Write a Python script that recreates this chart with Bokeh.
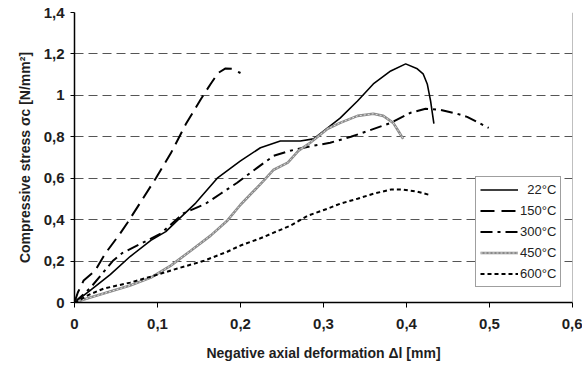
from bokeh.plotting import figure
from bokeh.models import Range1d, FixedTicker, CustomJSTickFormatter, Span
from bokeh.embed import file_html
from bokeh.resources import INLINE

# ---- data ----
x_ticks = [0, 0.1, 0.2, 0.3, 0.4, 0.5, 0.6]
y_ticks = [0, 0.2, 0.4, 0.6, 0.8, 1.0, 1.2, 1.4]

labels = ["\u00a0\u00a022°C", "150°C", "300°C", "450°C", "600°C"]

x22 = [0, 0.019, 0.043, 0.067, 0.092, 0.11, 0.125, 0.146, 0.172, 0.2, 0.224, 0.248,
       0.272, 0.288, 0.305, 0.32, 0.341, 0.36, 0.381, 0.399, 0.413, 0.42, 0.425, 0.429, 0.433]
y22 = [0, 0.058, 0.135, 0.222, 0.30, 0.342, 0.40, 0.48, 0.60, 0.684, 0.747, 0.78,
       0.78, 0.79, 0.843, 0.89, 0.973, 1.055, 1.118, 1.152, 1.128, 1.104, 1.055, 0.973, 0.863]

x150 = [0, 0.004, 0.011, 0.025, 0.037, 0.055, 0.064, 0.098, 0.116, 0.134, 0.152, 0.164,
        0.173, 0.182, 0.19, 0.2]
y150 = [0, 0.048, 0.106, 0.154, 0.236, 0.333, 0.386, 0.60, 0.72, 0.86, 0.98, 1.055,
        1.108, 1.13, 1.128, 1.108]

x300 = [0, 0.019, 0.046, 0.058, 0.088, 0.104, 0.131, 0.158, 0.176, 0.196, 0.22, 0.24,
        0.26, 0.288, 0.308, 0.333, 0.354, 0.381, 0.405, 0.423, 0.441, 0.461, 0.473, 0.499]
y300 = [0, 0.07, 0.20, 0.24, 0.30, 0.333, 0.43, 0.477, 0.525, 0.578, 0.65, 0.708,
        0.733, 0.757, 0.771, 0.80, 0.829, 0.867, 0.916, 0.935, 0.93, 0.911, 0.896, 0.843]

x450 = [0, 0.019, 0.035, 0.067, 0.092, 0.116, 0.14, 0.164, 0.184, 0.2, 0.228, 0.24,
        0.257, 0.27, 0.284, 0.305, 0.32, 0.341, 0.36, 0.372, 0.384, 0.39, 0.396]
y450 = [0, 0.024, 0.043, 0.082, 0.12, 0.178, 0.25, 0.323, 0.395, 0.472, 0.588, 0.641,
        0.675, 0.733, 0.771, 0.839, 0.867, 0.901, 0.911, 0.901, 0.867, 0.829, 0.79]

x600 = [0, 0.019, 0.035, 0.067, 0.092, 0.124, 0.155, 0.184, 0.2, 0.224, 0.24, 0.26,
        0.281, 0.305, 0.32, 0.341, 0.36, 0.381, 0.396, 0.413, 0.427]
y600 = [0, 0.04, 0.067, 0.096, 0.125, 0.164, 0.20, 0.245, 0.275, 0.31, 0.337, 0.371,
        0.419, 0.453, 0.477, 0.501, 0.525, 0.545, 0.545, 0.535, 0.52]

FONT = "Liberation Sans"

p = figure(width=582, height=369, x_range=Range1d(0, 0.6), y_range=Range1d(0, 1.4),
           output_backend="svg", toolbar_location=None,
           min_border_left=74, min_border_right=10, min_border_top=12, min_border_bottom=67)

p.background_fill_color = "white"
p.border_fill_color = "white"
p.outline_line_color = None

# grid
p.xgrid.grid_line_color = None
p.ygrid.grid_line_color = "#555555"
p.ygrid.grid_line_dash = "9 5"
p.ygrid.grid_line_width = 1

# axes
fmt = CustomJSTickFormatter(code="var s = (Math.round(tick*10)/10).toString(); return s.replace('.', ',');")
p.xaxis.ticker = FixedTicker(ticks=x_ticks)
p.yaxis.ticker = FixedTicker(ticks=y_ticks)
p.xaxis.formatter = fmt
p.yaxis.formatter = fmt
for ax in (p.xaxis[0], p.yaxis[0]):
    ax.axis_line_color = "black"
    ax.axis_line_width = 1.5
    ax.major_tick_line_color = "black"
    ax.major_tick_in = 0
    ax.minor_tick_line_color = None
    ax.major_label_text_font = FONT
    ax.major_label_text_font_style = "bold"
    ax.major_label_text_font_size = "15px"
    ax.major_label_text_color = "#1e1e1e"
    ax.axis_label_text_font = FONT
    ax.axis_label_text_font_style = "bold"
    ax.axis_label_text_font_size = "14px"
    ax.axis_label_text_color = "#1e1e1e"
p.xaxis.major_tick_out = 5
p.yaxis.major_tick_out = 4
p.xaxis.major_label_standoff = 11
p.yaxis.major_label_standoff = 6
p.xaxis.axis_label = "Negative axial deformation \u0394l [mm]"
p.yaxis.axis_label = "Compressive stress \u03c3c [N/mm\u00b2]"
p.xaxis.axis_label_standoff = 13
p.yaxis.axis_label_standoff = 8

# right border
p.add_layout(Span(location=0.6, dimension="height", line_color="#808080", line_width=1))

# curves
p.line(x22, y22, line_color="black", line_width=1.6, legend_label=labels[0])
p.line(x150, y150, line_color="black", line_width=2, line_dash="14 7", legend_label=labels[1])
p.line(x300, y300, line_color="black", line_width=2, line_dash="12 5 3 5", legend_label=labels[2])
p.line(x450, y450, line_color="#8a8a8a", line_width=2.6, legend_label=labels[3])
p.line(x450, y450, line_color="#e0e0e0", line_width=1, line_dash="2 2", legend_label=labels[3])
p.line(x600, y600, line_color="black", line_width=2, line_dash="4 3", legend_label=labels[4])

lg = p.legend[0]
lg.location = (401, 15)
lg.border_line_color = "#404040"
lg.border_line_width = 1
lg.background_fill_color = "white"
lg.background_fill_alpha = 1
lg.label_text_font = FONT
lg.label_text_font_size = "13px"
lg.label_text_color = "#222222"
lg.glyph_width = 38
lg.glyph_height = 17
lg.label_height = 17
lg.spacing = 4
lg.padding = 4
lg.margin = 0
lg.label_standoff = 2

open("out.html", "w").write(file_html(p, INLINE))
